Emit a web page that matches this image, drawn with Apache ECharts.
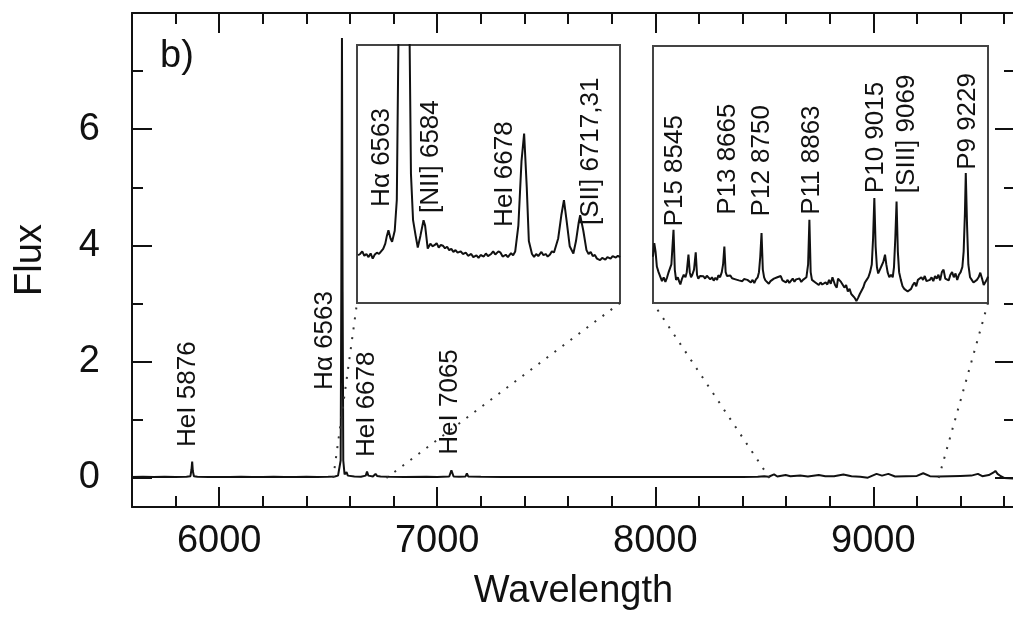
<!DOCTYPE html>
<html>
<head>
<meta charset="utf-8">
<script src="https://cdn.jsdelivr.net/npm/echarts@6/dist/echarts.min.js"></script>
<style>
  html, body { margin: 0; padding: 0; background: #fff; overflow: hidden; }
  #spectrum-chart { width: 1013px; height: 618px; }
</style>
</head>
<body>
<div id="spectrum-chart"></div>
<script>
// main spectrum [wavelength, flux]
const mainSpectrum = [
  [5600, 0.015], [5650, 0.02], [5700, 0.015], [5750, 0.02], [5800, 0.018], [5850, 0.02],
  [5868, 0.03], [5873, 0.15], [5876, 0.28], [5879, 0.12], [5884, 0.03], [5900, 0.02],
  [5950, 0.015], [6000, 0.018], [6050, 0.015], [6100, 0.02], [6150, 0.018], [6200, 0.015],
  [6250, 0.02], [6300, 0.015], [6350, 0.018], [6400, 0.02], [6450, 0.015], [6500, 0.02],
  [6530, 0.025], [6545, 0.04], [6548, 0.07], [6552, 0.05], [6557, 0.3], [6560, 3.2],
  [6563, 7.57], [6566, 3.2], [6569, 0.3], [6575, 0.06], [6580, 0.05], [6584, 0.1],
  [6590, 0.04], [6620, 0.025], [6650, 0.02], [6672, 0.04], [6678, 0.11], [6684, 0.04],
  [6705, 0.025], [6717, 0.07], [6724, 0.035], [6731, 0.06], [6740, 0.025], [6780, 0.02],
  [6850, 0.018], [6950, 0.02], [7000, 0.018], [7055, 0.025], [7065, 0.13], [7075, 0.025],
  [7100, 0.02], [7130, 0.025], [7136, 0.08], [7142, 0.025], [7200, 0.02], [7300, 0.015],
  [7400, 0.015], [7500, 0.018], [7600, 0.015], [7700, 0.018], [7800, 0.015], [7900, 0.018],
  [8000, 0.015], [8100, 0.018], [8200, 0.015], [8300, 0.018], [8400, 0.015], [8470, 0.02],
  [8500, 0.03], [8520, 0.02], [8545, 0.06], [8560, 0.025], [8598, 0.05], [8620, 0.03],
  [8665, 0.04], [8700, 0.025], [8750, 0.05], [8780, 0.03], [8820, 0.03], [8863, 0.06],
  [8900, 0.03], [8940, 0.02], [8975, 0.005], [9015, 0.07], [9040, 0.04], [9069, 0.07],
  [9100, 0.025], [9150, 0.03], [9200, 0.035], [9229, 0.08], [9260, 0.03], [9300, 0.025],
  [9350, 0.03], [9400, 0.035], [9450, 0.04], [9480, 0.07], [9500, 0.03], [9530, 0.05],
  [9550, 0.09], [9560, 0.12], [9570, 0.07], [9585, 0.03], [9600, 0.0], [9650, -0.01]
];

// Halpha region inset, flux in inset units
const inset1Spectrum = [
  [6519, 0.185], [6521, 0.19], [6523, 0.2], [6525, 0.183], [6527, 0.19], [6529, 0.178],
  [6531, 0.192], [6533, 0.172], [6535, 0.188], [6537, 0.195], [6539, 0.19], [6541, 0.2],
  [6543, 0.21], [6545, 0.23], [6546.5, 0.26], [6548, 0.282], [6550, 0.25], [6551.5, 0.237],
  [6554, 0.28], [6556, 0.4], [6558, 1.2], [6560, 3.0], [6563, 6.0], [6566, 3.0],
  [6568, 1.1], [6569.5, 0.5], [6571.5, 0.321], [6574, 0.26], [6576, 0.215], [6578.5, 0.26],
  [6581.5, 0.321], [6583, 0.3], [6585.5, 0.211], [6588, 0.23], [6590, 0.22], [6592, 0.224],
  [6594, 0.232], [6596, 0.215], [6598, 0.225], [6600, 0.222], [6602, 0.212], [6604, 0.218],
  [6606, 0.205], [6608, 0.21], [6610, 0.198], [6612, 0.205], [6614, 0.195], [6617, 0.2],
  [6619, 0.19], [6622, 0.195], [6624, 0.183], [6627, 0.19], [6629, 0.178], [6632, 0.185],
  [6634, 0.175], [6636, 0.186], [6639, 0.18], [6641, 0.192], [6643, 0.182], [6646, 0.19],
  [6648, 0.2], [6650, 0.188], [6653, 0.2], [6655, 0.195], [6657, 0.18], [6660, 0.187],
  [6662, 0.178], [6665, 0.193], [6667, 0.185], [6669, 0.2], [6672, 0.3], [6675, 0.55],
  [6677.5, 0.657], [6680, 0.45], [6682, 0.24], [6685, 0.19], [6687, 0.1785], [6689, 0.19],
  [6691, 0.182], [6694, 0.198], [6696, 0.185], [6698, 0.19], [6700, 0.18], [6702, 0.187],
  [6704, 0.2], [6706, 0.196], [6710, 0.25], [6713, 0.34], [6715.5, 0.3985], [6718, 0.32],
  [6721, 0.22], [6724.5, 0.192], [6727, 0.24], [6729.5, 0.31], [6731, 0.34], [6734, 0.28],
  [6737, 0.205], [6739, 0.19], [6741, 0.198], [6743, 0.182], [6745, 0.186], [6747, 0.172],
  [6750, 0.166], [6752, 0.175], [6755, 0.168], [6757, 0.178], [6760, 0.172], [6762, 0.182],
  [6765, 0.176], [6767, 0.183], [6769, 0.178]
];

// near-IR inset (Paschen lines)
const inset2Spectrum = [
  [8497, 0.18], [8500, 0.233], [8503, 0.2], [8506, 0.142], [8510, 0.12], [8514, 0.103],
  [8518, 0.085], [8522, 0.1], [8526, 0.082], [8530, 0.1], [8533, 0.117], [8537, 0.11],
  [8540, 0.15], [8545, 0.285], [8548, 0.13], [8551, 0.09], [8555, 0.1], [8558, 0.085],
  [8561, 0.072], [8565, 0.095], [8569, 0.11], [8573, 0.1], [8576, 0.12], [8580, 0.188],
  [8583, 0.12], [8586, 0.1], [8589, 0.11], [8593, 0.13], [8597, 0.197], [8600, 0.11],
  [8603, 0.095], [8607, 0.105], [8611, 0.098], [8615, 0.104], [8619, 0.095], [8623, 0.106],
  [8627, 0.1], [8631, 0.092], [8635, 0.1], [8639, 0.087], [8643, 0.098], [8647, 0.09],
  [8650, 0.108], [8654, 0.1], [8658, 0.12], [8661, 0.15], [8664, 0.22], [8667, 0.12],
  [8670, 0.105], [8674, 0.1], [8678, 0.107], [8682, 0.096], [8686, 0.1], [8690, 0.092],
  [8694, 0.098], [8698, 0.088], [8702, 0.095], [8706, 0.085], [8710, 0.093], [8714, 0.1],
  [8718, 0.09], [8722, 0.094], [8726, 0.08], [8730, 0.09], [8734, 0.078], [8738, 0.092],
  [8742, 0.1], [8745, 0.12], [8748, 0.18], [8751, 0.272], [8754, 0.13], [8757, 0.1],
  [8760, 0.088], [8764, 0.09], [8768, 0.075], [8772, 0.085], [8776, 0.08], [8780, 0.095],
  [8784, 0.09], [8788, 0.1], [8792, 0.095], [8796, 0.105], [8800, 0.088], [8804, 0.095],
  [8808, 0.08], [8812, 0.09], [8816, 0.078], [8820, 0.085], [8824, 0.095], [8828, 0.083],
  [8832, 0.092], [8836, 0.085], [8840, 0.095], [8844, 0.082], [8848, 0.09], [8852, 0.085],
  [8856, 0.1], [8860, 0.15], [8863, 0.324], [8866, 0.12], [8869, 0.09], [8873, 0.085],
  [8877, 0.08], [8881, 0.085], [8885, 0.07], [8889, 0.08], [8893, 0.072], [8897, 0.068],
  [8901, 0.08], [8905, 0.072], [8909, 0.09], [8913, 0.075], [8917, 0.1], [8920, 0.105],
  [8923, 0.07], [8927, 0.06], [8930, 0.095], [8933, 0.1], [8937, 0.082], [8941, 0.088],
  [8945, 0.06], [8949, 0.07], [8953, 0.045], [8957, 0.055], [8961, 0.035], [8965, 0.04],
  [8969, 0.02], [8973, 0.008], [8977, 0.02], [8981, 0.035], [8985, 0.04], [8989, 0.06],
  [8993, 0.08], [8997, 0.09], [9001, 0.1], [9005, 0.12], [9009, 0.15], [9012, 0.25],
  [9015, 0.408], [9018, 0.22], [9021, 0.14], [9024, 0.115], [9028, 0.13], [9032, 0.145],
  [9036, 0.16], [9040, 0.188], [9043, 0.15], [9046, 0.12], [9050, 0.1], [9054, 0.11],
  [9058, 0.1], [9061, 0.14], [9064, 0.25], [9067, 0.395], [9070, 0.2], [9073, 0.12],
  [9077, 0.09], [9081, 0.065], [9085, 0.055], [9089, 0.06], [9093, 0.045], [9097, 0.04],
  [9101, 0.055], [9105, 0.07], [9109, 0.08], [9113, 0.065], [9117, 0.09], [9121, 0.085],
  [9125, 0.1], [9129, 0.09], [9133, 0.105], [9137, 0.085], [9141, 0.078], [9145, 0.09],
  [9149, 0.1], [9153, 0.085], [9157, 0.105], [9161, 0.095], [9165, 0.11], [9169, 0.088],
  [9173, 0.12], [9177, 0.13], [9181, 0.095], [9185, 0.1], [9189, 0.088], [9193, 0.11],
  [9197, 0.12], [9201, 0.1], [9205, 0.115], [9209, 0.09], [9213, 0.11], [9217, 0.12],
  [9221, 0.14], [9224, 0.2], [9227, 0.35], [9229, 0.506], [9232, 0.3], [9235, 0.15],
  [9239, 0.1], [9243, 0.09], [9247, 0.08], [9251, 0.075], [9255, 0.09], [9259, 0.1],
  [9263, 0.118], [9267, 0.095], [9271, 0.07], [9275, 0.065], [9278, 0.09], [9281, 0.103]
];

// line labels: [x, y (bottom of text), text]
const mainLabels = [
  [5856, 0.534, "HeI 5876"],
  [6484, 1.515, "H\u03b1 6563"],
  [6677, 0.36, "HeI 6678"],
  [7057, 0.40, "HeI 7065"]
];
const inset1Labels = [
  [6542, 0.3725, "H\u03b1 6563"],
  [6588.5, 0.349, "[NII] 6584"],
  [6659, 0.295, "HeI 6678"],
  [6741, 0.302, "[SII] 6717,31"]
];
const inset2Labels = [
  [8549, 0.298, "P15 8545"],
  [8671, 0.343, "P13 8665"],
  [8752, 0.337, "P12 8750"],
  [8869, 0.343, "P11 8863"],
  [9019, 0.4275, "P10 9015"],
  [9091, 0.4275, "[SIII] 9069"],
  [9234, 0.518, "P9 9229"]
];

const mainRange = [5600, 9650];
const fluxRange = [-0.5, 8];
const inset1Range = [6518, 6769];
const inset2Range = [8497, 9281];
// where the dotted zoom lines meet the main spectrum
const inset1Anchor = [6523, 6767];
const inset2Anchor = [8524, 9300];

const FONT = "'Liberation Sans', Arial, sans-serif";
const INK = "#111";

const chart = echarts.init(document.getElementById("spectrum-chart"));

const frameAxis = (extra) => Object.assign({
  type: "value",
  gridIndex: 0,
  axisLine: { show: true, onZero: false, lineStyle: { color: INK, width: 2 } },
  axisTick: { show: true, inside: true, length: 20, lineStyle: { color: INK, width: 2 } },
  minorTick: { show: true, length: 11, lineStyle: { color: INK, width: 2 } },
  splitLine: { show: false },
  axisLabel: { show: false }
}, extra);

const hiddenAxis = (gi, range) => ({
  type: "value", gridIndex: gi, min: range[0], max: range[1], show: false
});

const tickLabel = (margin) => ({
  show: true, showMinLabel: false, showMaxLabel: false, margin: margin,
  formatter: (v) => String(v),
  fontFamily: FONT, fontSize: 38, color: INK
});

const labelSeries = (xi, yi, data) => ({
  type: "scatter",
  xAxisIndex: xi,
  yAxisIndex: yi,
  symbolSize: 0,
  silent: true,
  itemStyle: { opacity: 1 },
  data: data,
  label: {
    show: true,
    position: "inside",
    rotate: 90,
    align: "left",
    verticalAlign: "middle",
    formatter: (p) => p.value[2],
    fontFamily: FONT,
    fontSize: 26,
    color: INK,
    opacity: 1
  }
});

const spectrumSeries = (xi, yi, data) => ({
  type: "line", xAxisIndex: xi, yAxisIndex: yi, data: data, clip: true,
  showSymbol: false, symbol: "none", silent: true,
  lineStyle: { color: INK, width: 2 }
});

const option = {
  animation: false,
  backgroundColor: "#fff",
  grid: [
    { left: 132, top: 13, width: 883, height: 494, outerBoundsMode: "none" },
    { left: 357, top: 45, width: 263, height: 258, show: true, borderColor: "#444", borderWidth: 2, backgroundColor: "#fff", outerBoundsMode: "none" },
    { left: 653, top: 46, width: 335, height: 257, show: true, borderColor: "#444", borderWidth: 2, backgroundColor: "#fff", outerBoundsMode: "none" }
  ],
  xAxis: [
    frameAxis({
      position: "bottom", min: mainRange[0], max: mainRange[1],
      minorTick: { show: true, splitNumber: 5, length: 11, lineStyle: { color: INK, width: 2 } },
      axisLabel: tickLabel(16),
      name: "Wavelength", nameLocation: "middle", nameGap: 66,
      nameTextStyle: { fontFamily: FONT, fontSize: 38, color: INK }
    }),
    frameAxis({
      position: "top", min: mainRange[0], max: mainRange[1],
      minorTick: { show: true, splitNumber: 5, length: 11, lineStyle: { color: INK, width: 2 } }
    }),
    hiddenAxis(1, inset1Range),
    hiddenAxis(2, inset2Range)
  ],
  yAxis: [
    frameAxis({
      position: "left", min: fluxRange[0], max: fluxRange[1],
      minorTick: { show: true, splitNumber: 2, length: 11, lineStyle: { color: INK, width: 2 } },
      axisLabel: tickLabel(32),
      name: "Flux", nameLocation: "middle", nameGap: 82,
      nameTextStyle: { fontFamily: FONT, fontSize: 38, color: INK }
    }),
    frameAxis({
      position: "right", min: fluxRange[0], max: fluxRange[1],
      minorTick: { show: true, splitNumber: 2, length: 11, lineStyle: { color: INK, width: 2 } }
    }),
    hiddenAxis(1, [0, 1]),
    hiddenAxis(2, [0, 1])
  ],
  series: [
    spectrumSeries(0, 0, mainSpectrum),
    labelSeries(0, 0, mainLabels),
    spectrumSeries(2, 2, inset1Spectrum),
    labelSeries(2, 2, inset1Labels),
    spectrumSeries(3, 3, inset2Spectrum),
    labelSeries(3, 3, inset2Labels)
  ]
};

chart.setOption(option);

// dotted zoom connectors from the main spectrum to the inset corners
const toPx = (si, pt) => chart.convertToPixel({ seriesIndex: si }, pt);
const connector = (from, to) => ({
  type: "line",
  silent: true,
  z: 10,
  shape: { x1: from[0], y1: from[1], x2: to[0], y2: to[1] },
  style: { stroke: "#333", lineWidth: 2, lineDash: [2, 8] }
});
const connectors = [
  connector(toPx(0, [inset1Anchor[0], 0]), toPx(2, [inset1Range[0], 0])),
  connector(toPx(0, [inset1Anchor[1], 0]), toPx(2, [inset1Range[1], 0])),
  connector(toPx(0, [inset2Anchor[0], 0]), toPx(4, [inset2Range[0], 0])),
  connector(toPx(0, [inset2Anchor[1], 0]), toPx(4, [inset2Range[1], 0]))
];

chart.setOption({
  graphic: connectors.concat([{
    type: "text",
    x: 160,
    y: 38,
    silent: true,
    style: { text: "b)", font: "38px " + FONT, fill: INK, verticalAlign: "top" }
  }])
});
</script>
</body>
</html>
